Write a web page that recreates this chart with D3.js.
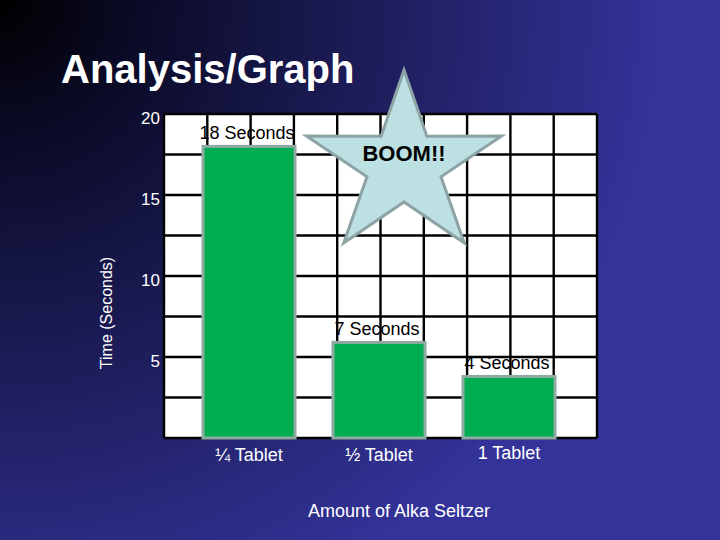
<!DOCTYPE html>
<html>
<head>
<meta charset="utf-8">
<script src="https://cdn.jsdelivr.net/npm/d3@7"></script>
<style>
  html, body { margin: 0; padding: 0; background: #333399; }
  svg { display: block; }
  text { font-family: "Liberation Sans", Arial, sans-serif; }
</style>
</head>
<body>
<script>
const categories = ["\u00BC Tablet", "\u00BD Tablet", "1 Tablet"];
const values = [18, 5.9, 3.8];
const valueLabels = ["18 Seconds", "7 Seconds", "4 Seconds"];
const yTicks = [20, 15, 10, 5];
const title = "Analysis/Graph";
const yTitle = "Time (Seconds)";
const xTitle = "Amount of Alka Seltzer";
const starText = "BOOM!!";

const W = 720, H = 540;
const svg = d3.select("body").append("svg").attr("width", W).attr("height", H);

const defs = svg.append("defs");
const grad = defs.append("radialGradient").attr("id", "bg")
  .attr("gradientUnits", "userSpaceOnUse")
  .attr("cx", 0).attr("cy", 0).attr("r", 660);
grad.append("stop").attr("offset", 0).attr("stop-color", "#000000");
grad.append("stop").attr("offset", 0.2).attr("stop-color", "#0a0a25");
grad.append("stop").attr("offset", 1).attr("stop-color", "#333399");
svg.append("rect").attr("width", W).attr("height", H).attr("fill", "url(#bg)");

// Title
svg.append("text").attr("x", 61).attr("y", 83)
  .attr("font-size", 40).attr("font-weight", "bold").attr("fill", "#fff")
  .text(title);

// Plot area
const pLeft = 164, pRight = 597, pTop = 114, pBottom = 438;
const y = d3.scaleLinear().domain([0, 20]).range([pBottom, pTop]);
const gx = d3.scaleLinear().domain([0, 10]).range([pLeft, pRight]);
const x = d3.scalePoint().domain(categories).range([249, 509]);
const barW = 92;

svg.append("rect").attr("x", pLeft).attr("y", pTop)
  .attr("width", pRight - pLeft).attr("height", pBottom - pTop)
  .attr("fill", "#fff");

const grid = svg.append("g").attr("stroke", "#000").attr("stroke-width", 2.4);
grid.selectAll("line.h").data(d3.range(0, 20.01, 2.5)).join("line")
  .attr("class", "h")
  .attr("x1", pLeft).attr("x2", pRight)
  .attr("y1", d => y(d)).attr("y2", d => y(d));
grid.selectAll("line.v").data(d3.range(0, 10.01, 1)).join("line")
  .attr("class", "v")
  .attr("y1", pTop).attr("y2", pBottom)
  .attr("x1", d => gx(d)).attr("x2", d => gx(d));

// Bars
svg.append("g").selectAll("rect").data(values).join("rect")
  .attr("x", (d, i) => x(categories[i]) - barW / 2)
  .attr("y", d => y(d))
  .attr("width", barW)
  .attr("height", d => y(0) - y(d))
  .attr("fill", "#00AD50")
  .attr("stroke", "#8FA9A3").attr("stroke-width", 3);

// Value labels
svg.append("g").selectAll("text").data(values).join("text")
  .attr("x", (d, i) => x(categories[i]) - 2)
  .attr("y", d => y(d) - 7)
  .attr("text-anchor", "middle").attr("font-size", 18).attr("fill", "#000")
  .text((d, i) => valueLabels[i]);

// Y tick labels
svg.append("g").selectAll("text").data(yTicks).join("text")
  .attr("x", 160).attr("y", d => y(d) + 4)
  .attr("dominant-baseline", "central")
  .attr("text-anchor", "end").attr("font-size", 17).attr("fill", "#fff")
  .text(d => d);

// Y title
svg.append("text")
  .attr("transform", "translate(112,313) rotate(-90)")
  .attr("text-anchor", "middle").attr("font-size", 16).attr("fill", "#fff")
  .text(yTitle);

// X labels
svg.append("g").selectAll("text").data(categories).join("text")
  .attr("x", d => x(d)).attr("y", (d, i) => i === 2 ? 459 : 461)
  .attr("text-anchor", "middle").attr("font-size", 18).attr("fill", "#fff")
  .text(d => d);

svg.append("text").attr("x", 399).attr("y", 517)
  .attr("text-anchor", "middle").attr("font-size", 18).attr("fill", "#fff")
  .text(xTitle);

// Star
const cx = 404, cy = 165.6, Rx = 102.5, Ry = 95.6, ratio = 0.38;
const pts = d3.range(10).map(k => {
  const a = -Math.PI / 2 + k * Math.PI / 5;
  const r = k % 2 === 0 ? 1 : ratio;
  return [cx + Rx * r * Math.cos(a), cy + Ry * r * Math.sin(a)];
});
svg.append("path")
  .attr("d", d3.line()(pts) + "Z")
  .attr("fill", "#BDE0E3").attr("stroke", "#8DA3A6").attr("stroke-width", 3)
  .attr("stroke-linejoin", "miter");
svg.append("text").attr("x", 404).attr("y", 161)
  .attr("text-anchor", "middle").attr("font-size", 22).attr("font-weight", "bold")
  .attr("font-family", "'DejaVu Sans', sans-serif").attr("fill", "#000")
  .text(starText);
</script>
</body>
</html>
